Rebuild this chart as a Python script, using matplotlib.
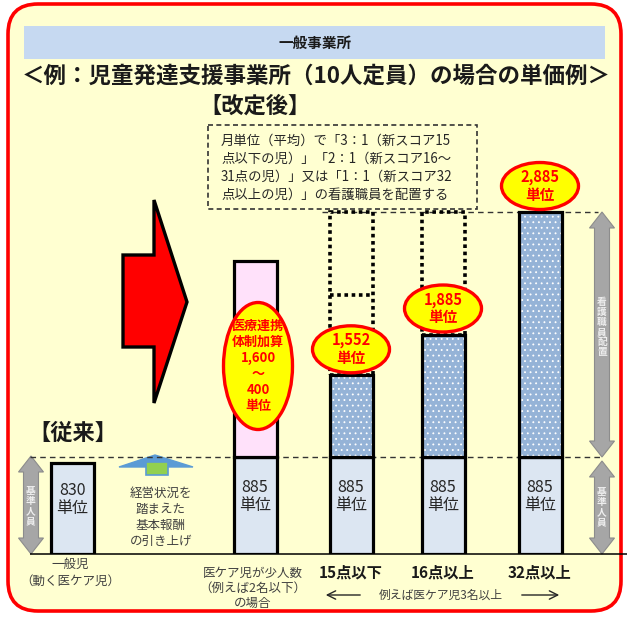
import numpy as np
import matplotlib
matplotlib.use("Agg")
import matplotlib.pyplot as plt
from matplotlib.patches import FancyBboxPatch, Rectangle, Polygon, Ellipse

plt.rcParams['font.family'] = ['Noto Sans CJK JP', 'DejaVu Sans']
plt.rcParams['hatch.linewidth'] = 0.6

# ---- data ----
header = '一般事業所'
title = '＜例：児童発達支援事業所（10人定員）の場合の単価例＞'
after_label = '【改定後】'
before_label = '【従来】'
note_lines = ['月単位（平均）で「3：1（新スコア15',
              '点以下の児）」「2：1（新スコア16～',
              '31点の児）」又は「1：1（新スコア32',
              '点以上の児）」の看護職員を配置する']
categories = ['一般児\n（動く医ケア児）', '医ケア児が少人数\n（例えば2名以下）\nの場合',
              '15点以下', '16点以上', '32点以上']
base_units = [830, 885, 885, 885, 885]
add_units = [0, 1600, 667, 1000, 2000]
add_min = 400
dotted_top = [None, None, 2885, 2885, None]
dotted_mid = [None, None, 2210, None, None]
raise_text = '経営状況を\n踏まえた\n基本報酬\nの引き上げ'
group_text = '例えば医ケア児3名以上'
staff_base = '基準人員'
staff_nurse = '看護職員配置'

# ---- layout ----
W, H = 627, 618
base_y = 554
xpos = [72, 255, 351, 443, 540]
bar_w = 43
k1, k2 = 0.1096, 0.1225          # px per unit below / above the base level
B = base_units[1]

def fwd(v):
    v = np.asarray(v, float)
    return np.where(v <= B, v * k1, B * k1 + (v - B) * k2)

def inv(p):
    p = np.asarray(p, float)
    return np.where(p <= B * k1, p / k1, B + (p - B * k1) / k2)

fig = plt.figure(figsize=(6.27, 6.18), dpi=100)

def px_axes(z):
    a = fig.add_axes([0, 0, 1, 1], zorder=z)
    a.set_xlim(0, W)
    a.set_ylim(H, 0)
    a.axis('off')
    a.patch.set_alpha(0)
    return a

bg = px_axes(0)
ax = fig.add_axes([0, (H - base_y) / H, 1, base_y / H], zorder=1)
ax.set_yscale('function', functions=(fwd, inv))
ax.set_xlim(0, W)
ax.set_ylim(0, float(inv(base_y)))
ax.axis('off')
ax.patch.set_alpha(0)
fg = px_axes(2)

def px(x, v):
    d = ax.transData.transform((x, v))
    return fg.transData.inverted().transform(d)

# frame
bg.add_patch(FancyBboxPatch((8, 4), 613, 607, boxstyle='round,pad=0,rounding_size=30',
                            fc='#FFFFD1', ec='#FF0000', lw=2.6))
bg.add_patch(Rectangle((24, 26), 581, 33, fc='#C6D9F1', ec='none'))
bg.text(315, 43, header, ha='center', va='center', fontsize=10.5, fontweight='bold', color='#1a1a1a')
bg.text(316, 76, title, ha='center', va='center', fontsize=16.2, fontweight='bold', color='#1a1a1a')
bg.text(199, 106, after_label, ha='left', va='center', fontsize=16, fontweight='bold', color='#1a1a1a')
bg.text(28, 433, before_label, ha='left', va='center', fontsize=16, fontweight='bold', color='#1a1a1a')

# note box
bg.add_patch(Rectangle((208, 125), 269, 84, fill=False, ec='#333333', lw=1.2, ls=(0, (3, 2))))
for i, line in enumerate(note_lines):
    bg.text(221, 141 + i * 17.8, line, ha='left', va='center', fontsize=9.6, color='#262626')

# red arrow
bg.add_patch(Polygon([(123, 255), (154, 255), (154, 200), (187, 302), (154, 403), (154, 347), (123, 347)],
                     closed=True, fc='#FF0000', ec='black', lw=2.4, joinstyle='miter'))

# raise arrow
bg.add_patch(Polygon([(155, 455), (193, 467), (119, 467)], closed=True, fc='#5B9BD5', ec='#5B9BD5', lw=1))
bg.add_patch(Rectangle((146, 462), 22, 13, fc='#92D050', ec='#5B9BD5', lw=1.2))
bg.text(161, 517, raise_text, ha='center', va='center', fontsize=9, color='#404040', linespacing=1.3)

# gray double arrows
def dbl_arrow(x, y0, y1, hw=12.5, sw=7.5, hl=16):
    pts = [(x, y0), (x + hw, y0 + hl), (x + sw, y0 + hl), (x + sw, y1 - hl), (x + hw, y1 - hl),
           (x, y1), (x - hw, y1 - hl), (x - sw, y1 - hl), (x - sw, y0 + hl), (x - hw, y0 + hl)]
    bg.add_patch(Polygon(pts, closed=True, fc='#A6A6A6', ec='#8C8C8C', lw=0.8, zorder=2))

def vtext(x, y, s):
    bg.text(x, y, '\n'.join(s), ha='center', va='center', fontsize=7, fontweight='bold',
            color='#EEEEEE', linespacing=1.0, zorder=3)

top_y = px(0, base_units[4] + add_units[4])[1]
mid_y = px(0, B)[1]
dbl_arrow(31, mid_y - 1, base_y)
vtext(31, 506, staff_base)
dbl_arrow(602, top_y, mid_y)
dbl_arrow(602, mid_y + 4, base_y)
vtext(602, 327, staff_nurse)
vtext(602, 507, staff_base)

# guide lines
ax.hlines(B, 30, 600, colors='#333333', linestyles=(0, (4, 3)), lw=1.0, zorder=1)
ax.hlines(base_units[4] + add_units[4], 322, 598, colors='#333333', linestyles=(0, (4, 3)), lw=1.0, zorder=1)
ax.hlines(0, 30, 627, colors='black', lw=1.1, zorder=1, clip_on=False)

# dotted boxes
for i in range(len(xpos)):
    if dotted_top[i] is None:
        continue
    tot = base_units[i] + add_units[i]
    ax.bar(xpos[i], dotted_top[i] - tot, bottom=tot, width=bar_w, fill=False,
           edgecolor='black', linestyle=(0, (1, 1)), lw=2.6, zorder=2)
    if dotted_mid[i] is not None:
        ax.hlines(dotted_mid[i], xpos[i] - bar_w / 2, xpos[i] + bar_w / 2, colors='black',
                  linestyles=(0, (1, 1)), lw=2.6, zorder=2)

# bars
ax.bar(xpos, base_units, width=bar_w, color='#DCE6F2', edgecolor='black', lw=2.3, zorder=3)
ax.bar(xpos[1], add_units[1], bottom=base_units[1], width=bar_w, color='#FFE1FA',
       edgecolor='black', lw=2.3, zorder=3)
for i in range(2, 5):
    ax.bar(xpos[i], add_units[i], bottom=base_units[i], width=bar_w, color='#95B3D7',
           edgecolor='white', hatch='...', lw=0, zorder=3)
    ax.bar(xpos[i], add_units[i], bottom=base_units[i], width=bar_w, fill=False,
           edgecolor='black', lw=2.3, zorder=4)

for i in range(len(xpos)):
    cx, cy = px(xpos[i], base_units[i] / 2)
    fg.text(cx, cy - 9, f'{base_units[i]}\n単位', ha='center', va='center', fontsize=11.5,
            color='#262626', linespacing=1.15, zorder=5)

# bubbles
def bubble(cx, cy, w, h, s, fs=10.5, ls=1.15):
    fg.add_patch(Ellipse((cx, cy), w, h, fc='#FFFF00', ec='#FF0000', lw=2.4, zorder=6))
    fg.text(cx, cy, s, ha='center', va='center', fontsize=fs, fontweight='bold',
            color='#FF0000', linespacing=ls, zorder=7)

cx, cy = px(xpos[1], base_units[1] + add_units[1] / 2)
bubble(cx + 3, cy + 7, 69, 127,
       f'医療連携\n体制加算\n{add_units[1]:,}\n～\n{add_min}\n単位', fs=9.4, ls=1.17)
for i in range(2, 5):
    tot = base_units[i] + add_units[i]
    cx, cy = px(xpos[i], tot)
    bubble(cx, cy - 26, 77, 47, f'{tot:,}\n単位')

# category labels
for i, c in enumerate(categories):
    if i < 2:
        fg.text(xpos[i] - 2, 573 if i == 0 else 588, c, ha='center', va='center',
                fontsize=9, color='#404040', linespacing=1.35 if i == 0 else 1.2)
    else:
        fg.text(xpos[i], 573, c, ha='center', va='center', fontsize=11, fontweight='bold',
                color='#1a1a1a')
fg.text(441, 595, group_text, ha='center', va='center', fontsize=8.5, color='#404040')
fg.annotate('', xy=(323, 595), xytext=(363, 595),
            arrowprops=dict(arrowstyle='->,head_length=0.6,head_width=0.3', color='#262626', lw=1))
fg.annotate('', xy=(562, 595), xytext=(519, 595),
            arrowprops=dict(arrowstyle='->,head_length=0.6,head_width=0.3', color='#262626', lw=1))

fig.savefig('out.png', dpi=100, facecolor='white')
